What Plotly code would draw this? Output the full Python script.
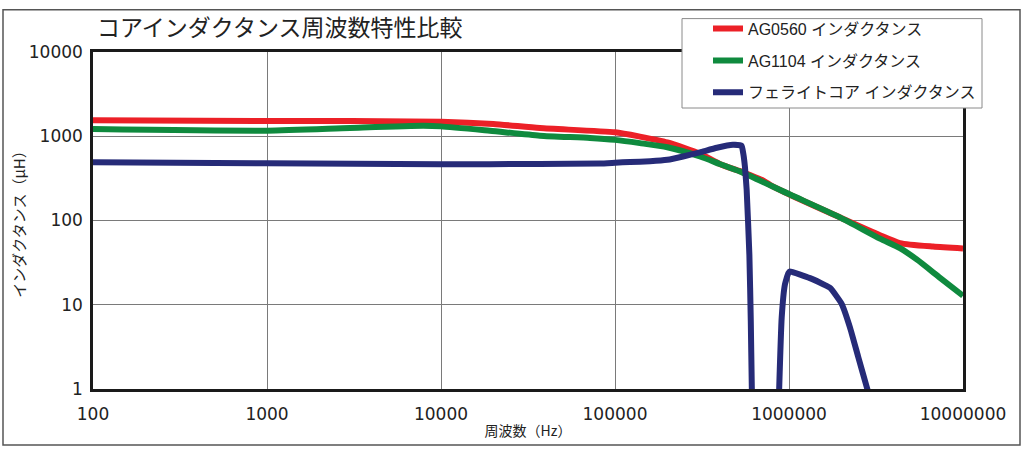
import plotly.graph_objects as go

# ---------------- data ----------------
title_text = "コアインダクタンス周波数特性比較"
x_title = "周波数（Hz）"
y_title = "インダクタンス（μH）"

x_tickvals = [100, 1000, 10000, 100000, 1000000, 10000000]
x_ticktext = ["100", "1000", "10000", "100000", "1000000", "10000000"]
y_tickvals = [1, 10, 100, 1000, 10000]
y_ticktext = ["1", "10", "100", "1000", "10000"]

series_names = ["AG0560 インダクタンス", "AG1104 インダクタンス", "フェライトコア インダクタンス"]

red_f = [100, 1000, 10000, 20000, 37000, 100000, 139000, 200000, 308000, 400000,
         523000, 592000, 700000, 778000, 1013000, 1960000, 3330000, 4340000, 6730000, 10000000]
red_L = [1550, 1520, 1490, 1400, 1250, 1113, 990, 845, 620, 470,
         385, 348, 302, 265, 202, 109, 67, 54, 49, 46.5]

green_f = [100, 1000, 3000, 7900, 10000, 19100, 37000, 71800, 100000, 139000, 200000,
           308000, 400000, 523000, 1013000, 1960000, 3330000, 4340000, 5420000, 7380000, 10000000]
green_L = [1216, 1165, 1255, 1330, 1310, 1162, 1016, 955, 906, 829, 740,
           575, 468, 381, 203, 109, 61, 47, 34.5, 20.9, 12.8]

blue_f = [100, 1000, 10000, 37000, 82000, 100000, 122000, 159000, 200000, 246000, 308000,
          385000, 476000, 534000, 546000, 558000, 571000, 592000, 603000, 611000, 616000,
          None,
          870000, 878000, 908000, 948000, 991000, 1013000, 1320000, 1720000, 2010000,
          2240000, 2500000, 2800000, 3100000]
blue_L = [493, 478, 466, 468, 475, 485, 495, 505, 525, 575, 645,
          730, 790, 772, 623, 437, 233, 39, 6.5, 1.1, 0.5,
          None,
          0.5, 1.0, 7.1, 17.5, 23.7, 24.8, 20.7, 15.9, 10.2,
          5.4, 2.4, 1.05, 0.5]

colors = ["#EC2027", "#0F8A3E", "#262B78"]

# ---------------- figure ----------------
W, H = 1024, 450
L_M, R_M, T_M, B_M = 93, 61, 46, 61
pw, ph = W - L_M - R_M, H - T_M - B_M


def px2paper(x, y):
    return (x - L_M) / pw, (H - B_M - y) / ph


fig = go.Figure()
for name, fx, fy, c, sm in [
    (series_names[0], red_f, red_L, colors[0], 0.6),
    (series_names[1], green_f, green_L, colors[1], 0.6),
    (series_names[2], blue_f, blue_L, colors[2], 0.4),
]:
    fig.add_trace(go.Scatter(
        x=fx, y=fy, mode="lines", name=name, legendgroup=name,
        line=dict(color=c, width=6, shape="spline", smoothing=sm),
        connectgaps=False,
    ))

jp = "Noto Sans CJK JP"
num_font = "DejaVu Sans"
leg_font = "Liberation Sans"

ox0, oy0 = px2paper(3, 3)
ox1, oy1 = px2paper(1020, 446)
lx0, ly0 = px2paper(682, 12)
lx1, ly1 = px2paper(982, 103)
legx, legy = px2paper(708, 5)

fig.update_layout(
    width=W, height=H, autosize=False,
    margin=dict(l=L_M, r=R_M, t=T_M, b=B_M),
    paper_bgcolor="white", plot_bgcolor="white",
    font=dict(family=f"{leg_font}, {jp}", color="#222222"),
    title=dict(text=title_text, x=97 / W, xref="container", xanchor="left",
               y=1 - 28 / H, yref="container", yanchor="middle",
               font=dict(family=jp, size=23, color="#222222")),
    xaxis=dict(type="log", range=[2, 7], tickvals=x_tickvals, ticktext=x_ticktext,
               showgrid=True, gridcolor="#7a7a7a", gridwidth=1,
               showline=True, linecolor="#1a1a1a", linewidth=2.5, mirror=True,
               ticks="", ticklabelstandoff=8,
               tickfont=dict(family=num_font, size=17, color="#222222"),
               title=dict(text=x_title, standoff=4,
                          font=dict(family=jp, size=14, color="#222222")),
               zeroline=False),
    yaxis=dict(type="log", range=[0, 4], tickvals=y_tickvals, ticktext=y_ticktext,
               showgrid=True, gridcolor="#7a7a7a", gridwidth=1,
               showline=True, linecolor="#1a1a1a", linewidth=2.5, mirror=True,
               ticks="", ticklabelstandoff=4,
               tickfont=dict(family=num_font, size=17, color="#222222"),
               title=dict(text=y_title, standoff=0,
                          font=dict(family=jp, size=15, color="#222222")),
               zeroline=False),
    legend=dict(x=legx, y=legy, xanchor="left", yanchor="top",
                bgcolor="rgba(0,0,0,0)", borderwidth=0,
                font=dict(family=f"{leg_font}, {jp}", size=16, color="#222222"),
                traceorder="grouped", tracegroupgap=8),
    shapes=[
        dict(type="rect", xref="paper", yref="paper", x0=ox0, y0=oy0, x1=ox1, y1=oy1,
             line=dict(color="#555555", width=1.5), fillcolor="rgba(0,0,0,0)", layer="above"),
        dict(type="rect", xref="paper", yref="paper", x0=lx0, y0=ly0, x1=lx1, y1=ly1,
             line=dict(color="#8a8a8a", width=1), fillcolor="white", layer="above"),
    ],
    showlegend=True,
)

fig.write_html("out.html", config={"displayModeBar": False},
               post_script="document.body.style.margin='0px';document.body.style.padding='0px';")
